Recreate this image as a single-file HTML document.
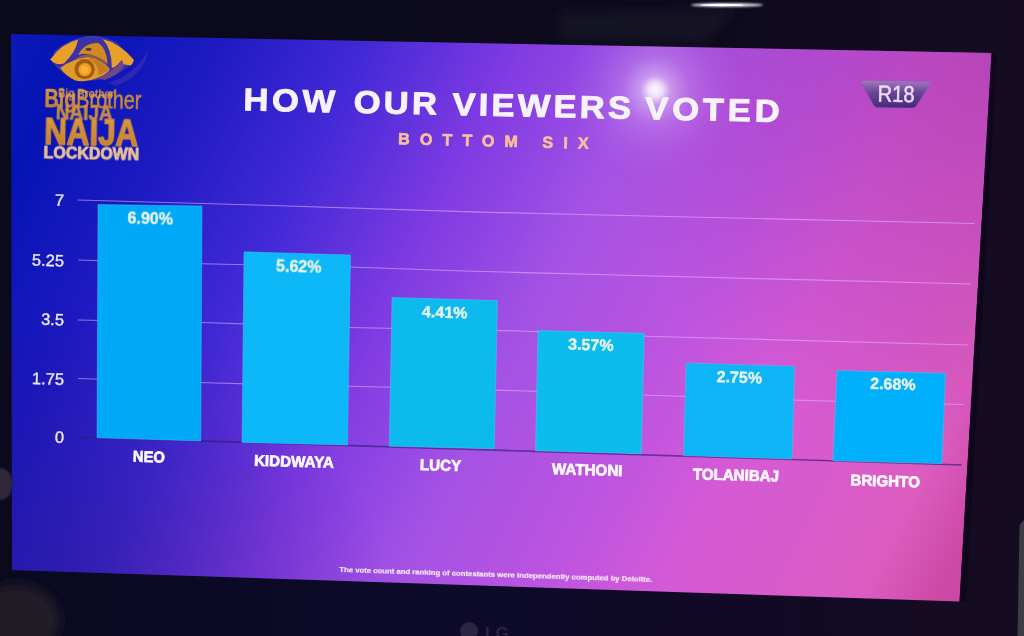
<!DOCTYPE html>
<html><head><meta charset="utf-8"><title>How our viewers voted</title>
<style>
html,body{margin:0;padding:0;background:#0d0a1f;}
body{width:1024px;height:636px;overflow:hidden;}
svg{display:block;}
text{font-family:"Liberation Sans",sans-serif;}
</style></head><body>
<svg width="1024" height="636" viewBox="0 0 1024 636">
<defs>
<linearGradient id="bg" gradientUnits="userSpaceOnUse" x1="0" y1="0" x2="1039.6" y2="519.8">

<stop offset="0.0308" stop-color="#0a18b8"/>
<stop offset="0.0769" stop-color="#0614b4"/>
<stop offset="0.1823" stop-color="#1d1ac2"/>
<stop offset="0.2977" stop-color="#4229d6"/>
<stop offset="0.4131" stop-color="#7e3ae2"/>
<stop offset="0.5285" stop-color="#a452e4"/>
<stop offset="0.6438" stop-color="#bc54e0"/>
<stop offset="0.7385" stop-color="#d45ad6"/>
<stop offset="0.8923" stop-color="#dc5cc0"/>
<stop offset="0.9538" stop-color="#cc48a4"/>
</linearGradient>
<radialGradient id="glare" gradientUnits="userSpaceOnUse" cx="655.3" cy="90" r="88">
<stop offset="0" stop-color="#ffffff" stop-opacity="0.96"/>
<stop offset="0.08" stop-color="#ffffff" stop-opacity="0.82"/>
<stop offset="0.17" stop-color="#f4e8ff" stop-opacity="0.48"/>
<stop offset="0.4" stop-color="#e4c8ff" stop-opacity="0.22"/>
<stop offset="0.7" stop-color="#d8b0ff" stop-opacity="0.08"/>
<stop offset="1" stop-color="#d0a0ff" stop-opacity="0"/>
</radialGradient>
<radialGradient id="trdark" gradientUnits="userSpaceOnUse" cx="1000" cy="40" r="420">
<stop offset="0" stop-color="#7a1a8a" stop-opacity="0.35"/>
<stop offset="1" stop-color="#7a1a8a" stop-opacity="0"/>
</radialGradient>
<radialGradient id="bldark" gradientUnits="userSpaceOnUse" cx="60" cy="620" r="330">
<stop offset="0" stop-color="#1a0a70" stop-opacity="0.4"/>
<stop offset="1" stop-color="#1a0a70" stop-opacity="0"/>
</radialGradient>
<linearGradient id="badge" x1="0" y1="0" x2="0" y2="1">
<stop offset="0" stop-color="#a878c4"/>
<stop offset="0.45" stop-color="#6a4496"/>
<stop offset="1" stop-color="#46287c"/>
</linearGradient>
<linearGradient id="gold" x1="0" y1="0" x2="0" y2="1">
<stop offset="0" stop-color="#e0a04a"/>
<stop offset="1" stop-color="#c07a28"/>
</linearGradient>
<filter id="soft" x="-5%" y="-5%" width="110%" height="110%"><feGaussianBlur stdDeviation="0.45"/></filter>
<filter id="blur6" x="-50%" y="-50%" width="200%" height="200%"><feGaussianBlur stdDeviation="6"/></filter>
<filter id="blur2" x="-50%" y="-50%" width="200%" height="200%"><feGaussianBlur stdDeviation="1.2"/></filter>
<clipPath id="scr"><polygon points="11,34 991.5,53 959.5,601.5 12,570"/></clipPath>
</defs>
<rect width="1024" height="636" fill="#0b0a1d"/>
<!-- bezel tints -->
<linearGradient id="topbz" x1="0" y1="0" x2="1" y2="0"><stop offset="0" stop-color="#0a0a1c"/><stop offset="0.6" stop-color="#0c0a1c"/><stop offset="1" stop-color="#150c22"/></linearGradient>
<polygon points="0,0 1024,0 1024,60 0,40" fill="url(#topbz)"/>
<polygon points="992,53 1024,53 1024,636 955,636 960,601" fill="#150b22"/>
<linearGradient id="botbz" x1="0" y1="0" x2="1" y2="0"><stop offset="0" stop-color="#090920"/><stop offset="0.45" stop-color="#0d0a2a"/><stop offset="0.8" stop-color="#110a26"/><stop offset="1" stop-color="#150b22"/></linearGradient>
<polygon points="0,570 960,601.5 960,636 0,636" fill="url(#botbz)"/>
<polygon points="560,12 735,10 705,42 560,40" fill="#1e1c2c" opacity="0.55" filter="url(#blur6)"/>
<ellipse cx="727" cy="5" rx="36" ry="1.8" fill="#e8eef4" filter="url(#blur2)"/>
<ellipse cx="722" cy="5" rx="22" ry="1.2" fill="#ffffff"/>
<polygon points="1019.5,525 1024,520 1024,636 1017.5,636" fill="#3e3c44"/>
<!-- LG logo -->
<g fill="#2a2540" filter="url(#soft)">
<circle cx="469" cy="631" r="9"/>
<text x="485" y="639" font-size="17" font-weight="bold" fill="#2a2540">LG</text>
</g>
<!-- fingers -->
<ellipse cx="16" cy="620" rx="44" ry="36" fill="#211a28" filter="url(#blur6)"/>
<!-- screen -->
<polygon points="11,34 991.5,53 959.5,601.5 12,570" fill="url(#bg)"/>
<g clip-path="url(#scr)">
<rect width="1024" height="636" fill="url(#trdark)"/>
<rect width="1024" height="636" fill="url(#bldark)"/>
<rect width="1024" height="636" fill="url(#glare)"/>

<g fill="none" stroke="#e8b8ff" stroke-opacity="0.55" stroke-width="1.2" filter="url(#soft)">
<polyline points="77.5,200 256,205 480,212.1 580,214.5 974.5,223.5"/>
<polyline points="78,260 202,263.75 350,267 456,270.75 636,275.5 971,284"/>
<polyline points="78,320 202,322.5 350,327.5 520,331 645,336.25 740,338.75 968,345"/>
<polyline points="78,378.5 215,383 370,386.75 518,390.75 665,395.75 815,400.75 964,404.5"/>
</g>
<polyline points="77.5,437.25 256,442.6 535,451.4 961.6,465" fill="none" stroke="#321a7a" stroke-opacity="0.65" stroke-width="1.6" filter="url(#soft)"/>
<g filter="url(#soft)">
<polygon points="98,204.5 202,206 200.75,441 97,437.75" fill="#04a9f8" stroke="#58c8f8" stroke-opacity="0.5" stroke-width="0.8"/>
<polygon points="244,251.75 350.5,255 347.5,445 242,442.5" fill="#08b8f8" stroke="#58c8f8" stroke-opacity="0.5" stroke-width="0.8"/>
<polygon points="392,297.5 497.5,300.5 494.25,448.75 389.25,446.25" fill="#0ebaee" stroke="#58c8f8" stroke-opacity="0.5" stroke-width="0.8"/>
<polygon points="538,330.5 644.25,333.25 641.25,453.75 535.5,450.75" fill="#10bcee" stroke="#58c8f8" stroke-opacity="0.5" stroke-width="0.8"/>
<polygon points="686.25,363 794.5,366.25 792,459 683.5,455.6" fill="#08b4f6" stroke="#58c8f8" stroke-opacity="0.5" stroke-width="0.8"/>
<polygon points="837,370.5 945.5,373.25 941.8,463.6 833,460.8" fill="#00b0fc" stroke="#58c8f8" stroke-opacity="0.5" stroke-width="0.8"/>
</g>
<g filter="url(#soft)">
<text x="64" y="205.91" font-size="16.5" font-weight="normal" text-anchor="end" fill="#ece8f6" transform="rotate(1.6 64 200)" stroke="#ece8f6" stroke-width="0.35">7</text>
<text x="64" y="266.41" font-size="16.5" font-weight="normal" text-anchor="end" fill="#ece8f6" transform="rotate(1.6 64 260.5)" stroke="#ece8f6" stroke-width="0.35">5.25</text>
<text x="64" y="325.41" font-size="16.5" font-weight="normal" text-anchor="end" fill="#ece8f6" transform="rotate(1.6 64 319.5)" stroke="#ece8f6" stroke-width="0.35">3.5</text>
<text x="64" y="384.91" font-size="16.5" font-weight="normal" text-anchor="end" fill="#ece8f6" transform="rotate(1.6 64 379)" stroke="#ece8f6" stroke-width="0.35">1.75</text>
<text x="64" y="442.91" font-size="16.5" font-weight="normal" text-anchor="end" fill="#ece8f6" transform="rotate(1.6 64 437)" stroke="#ece8f6" stroke-width="0.35">0</text>
<text x="150.25" y="224.48" font-size="16" font-weight="bold" text-anchor="middle" fill="#e8f2ec" textLength="45.5" lengthAdjust="spacingAndGlyphs" transform="rotate(1.6 150.25 218.75)" stroke="#e8f2ec" stroke-width="0.4">6.90%</text>
<text x="298.75" y="272.48" font-size="16" font-weight="bold" text-anchor="middle" fill="#e8f2ec" textLength="45.5" lengthAdjust="spacingAndGlyphs" transform="rotate(1.6 298.75 266.75)" stroke="#e8f2ec" stroke-width="0.4">5.62%</text>
<text x="444.75" y="317.73" font-size="16" font-weight="bold" text-anchor="middle" fill="#e8f2ec" textLength="45.5" lengthAdjust="spacingAndGlyphs" transform="rotate(1.6 444.75 312)" stroke="#e8f2ec" stroke-width="0.4">4.41%</text>
<text x="590.9" y="350.23" font-size="16" font-weight="bold" text-anchor="middle" fill="#e8f2ec" textLength="45.5" lengthAdjust="spacingAndGlyphs" transform="rotate(1.6 590.9 344.5)" stroke="#e8f2ec" stroke-width="0.4">3.57%</text>
<text x="739.4" y="382.73" font-size="16" font-weight="bold" text-anchor="middle" fill="#e8f2ec" textLength="45.5" lengthAdjust="spacingAndGlyphs" transform="rotate(1.6 739.4 377)" stroke="#e8f2ec" stroke-width="0.4">2.75%</text>
<text x="892.9" y="389.48" font-size="16" font-weight="bold" text-anchor="middle" fill="#e8f2ec" textLength="45.5" lengthAdjust="spacingAndGlyphs" transform="rotate(1.6 892.9 383.75)" stroke="#e8f2ec" stroke-width="0.4">2.68%</text>
<text x="149" y="462.05" font-size="15.5" font-weight="bold" text-anchor="middle" fill="#fbf8fd" textLength="32" lengthAdjust="spacingAndGlyphs" transform="rotate(1.6 149 456.5)" stroke="#fbf8fd" stroke-width="0.7">NEO</text>
<text x="293.9" y="466.80" font-size="15.5" font-weight="bold" text-anchor="middle" fill="#fbf8fd" textLength="79.75" lengthAdjust="spacingAndGlyphs" transform="rotate(1.6 293.9 461.25)" stroke="#fbf8fd" stroke-width="0.7">KIDDWAYA</text>
<text x="440.6" y="470.55" font-size="15.5" font-weight="bold" text-anchor="middle" fill="#fbf8fd" textLength="41.25" lengthAdjust="spacingAndGlyphs" transform="rotate(1.6 440.6 465)" stroke="#fbf8fd" stroke-width="0.7">LUCY</text>
<text x="587.25" y="475.05" font-size="15.5" font-weight="bold" text-anchor="middle" fill="#fbf8fd" textLength="70.5" lengthAdjust="spacingAndGlyphs" transform="rotate(1.6 587.25 469.5)" stroke="#fbf8fd" stroke-width="0.7">WATHONI</text>
<text x="736" y="480.35" font-size="15.5" font-weight="bold" text-anchor="middle" fill="#fbf8fd" textLength="86.1" lengthAdjust="spacingAndGlyphs" transform="rotate(1.6 736 474.8)" stroke="#fbf8fd" stroke-width="0.7">TOLANIBAJ</text>
<text x="885.2" y="486.25" font-size="15.5" font-weight="bold" text-anchor="middle" fill="#fbf8fd" textLength="69.6" lengthAdjust="spacingAndGlyphs" transform="rotate(1.6 885.2 480.7)" stroke="#fbf8fd" stroke-width="0.7">BRIGHTO</text>
<text x="0" y="0" font-size="31.5" font-weight="bold" fill="#f6f2fa" stroke="#f6f2fa" stroke-width="0.9" stroke-linejoin="round" textLength="83.5" lengthAdjust="spacing" transform="translate(243.2 110.37) rotate(1.24) scale(1.1 1)">HOW</text>
<text x="0" y="0" font-size="31.5" font-weight="bold" fill="#f6f2fa" stroke="#f6f2fa" stroke-width="0.9" stroke-linejoin="round" textLength="75.8" lengthAdjust="spacing" transform="translate(353.4 112.75) rotate(1.24) scale(1.1 1)">OUR</text>
<text x="0" y="0" font-size="31.5" font-weight="bold" fill="#f6f2fa" stroke="#f6f2fa" stroke-width="0.9" stroke-linejoin="round" textLength="162.5" lengthAdjust="spacing" transform="translate(452.2 114.88) rotate(1.24) scale(1.1 1)">VIEWERS</text>
<text x="0" y="0" font-size="31.5" font-weight="bold" fill="#f6f2fa" stroke="#f6f2fa" stroke-width="0.9" stroke-linejoin="round" textLength="122.3" lengthAdjust="spacing" transform="translate(645 119.05) rotate(1.24) scale(1.1 1)">VOTED</text>
<text x="398" y="144.3" font-size="16.2" font-weight="bold" fill="#f8c09c" stroke="#f8c09c" stroke-width="0.6" textLength="190.5" lengthAdjust="spacing" transform="rotate(1.36 398 144.3)">BOTTOM SIX</text>
<text x="339.3" y="571.6" font-size="7.4" font-weight="bold" fill="#f4ecf8" stroke="#f4ecf8" stroke-width="0.2" textLength="313" lengthAdjust="spacingAndGlyphs" transform="rotate(1.83 339.3 571.6)">The vote count and ranking of contestants were independently computed by Deloitte.</text>
</g>
<g filter="url(#soft)">
<path d="M866,80.3 L927.5,81.5 Q932,81.8 929.6,85 L916.5,105.8 Q915,108.2 912,108.1 L878,107.6 Q875,107.5 873.5,105 L861.5,83.5 Q860,80.2 866,80.3 Z" fill="url(#badge)" stroke="#8a5aa8" stroke-opacity="0.6" stroke-width="0.8"/>
<text x="877.5" y="101.6" font-size="23" fill="#ecdcf6" stroke="#ecdcf6" stroke-width="0.5" textLength="37" lengthAdjust="spacingAndGlyphs" transform="rotate(1 877.5 101.6)">R18</text>
</g>
<g filter="url(#soft)"><g>
<path d="M 52.9,53.5 Q 64.7,39.5 90.5,35.8 Q 108.8,36.3 121.6,46.0 Q 106.6,39.5 90.5,39.5 Q 67.9,42.7 58.3,57.8 Z" fill="#8a60b0" opacity="0.45"/>
<path d="M 108.8,82.5 Q 134.5,75.0 148.5,50.3 Q 143.1,77.1 115.2,85.7 Z" fill="#4a38b0" opacity="0.5"/>
<path d="M 50.2,59.4 Q 66.9,39.5 91.6,37.6 Q 117.3,38.4 134.0,60.1 Q 130.2,67.4 115.2,75.0 Q 95.9,82.5 76.5,80.9 Q 61.5,75.0 50.2,59.4 Z" fill="#3a30a8"/>
<path d="M 50.2,59.4 Q 61.5,43.8 78.1,39.5 Q 76.0,51.9 64.2,63.2 Q 56.1,66.2 50.2,59.4 Z" fill="#e8a02c"/>
<path d="M 102.8,39.3 Q 119.5,42.7 134.0,60.1 Q 132.9,64.2 130.8,65.5 L 123.3,64.2 L 121.9,60.1 L 117.6,64.4 Q 115.2,67.4 111.8,68.0 Q 112.0,49.2 102.8,39.3 Z" fill="#e8a02c"/>
<path d="M 75.4,58.9 Q 90.5,53.5 108.8,68.5 Q 104.5,58.9 95.9,55.1 Q 85.1,52.4 75.4,58.9 Z" fill="#8a5a50"/>
<path d="M 78.1,55.1 Q 84.0,42.7 98.5,43.0 Q 107.1,49.2 107.5,64.2 Q 101.2,56.9 90.5,54.6 Q 84.0,52.9 78.1,55.1 Z" fill="#d08a24"/>
<path d="M 60.2,68.0 Q 72.2,58.3 88.3,56.9 Q 100.2,58.9 109.8,69.1 Q 108.8,73.4 98.0,77.7 Q 85.1,82.5 75.4,80.6 Q 65.8,76.0 60.2,68.0 Z" fill="#e09a26"/>
<path d="M 86.2,56.9 Q 100.2,58.9 108.8,69.6 Q 104.5,73.9 98.0,75.0 Q 100.2,64.2 86.2,56.9 Z" fill="#b87420" opacity="0.8"/>
<path d="M 98.0,78.0 Q 113.0,71.7 121.9,60.8 L 124.0,65.5 Q 118.4,76.0 104.5,79.9 Z" fill="#7a4a80" opacity="0.9"/>
<ellipse cx="88.6" cy="49.2" rx="3" ry="1.5" fill="#5a3448"/>
<circle cx="84.6" cy="69.1" r="10.2" fill="#a05c18"/>
<circle cx="84.9" cy="69.6" r="6.6" fill="#ee9e20"/>
<circle cx="84.5" cy="69.8" r="4" fill="#f6b030"/>
</g></g>
<g filter="url(#soft)" transform="rotate(1.2 92 100)">
<text x="44.4" y="107.6" font-size="25" fill="url(#gold)" stroke="#cc8c3a" stroke-width="0.5" textLength="97" lengthAdjust="spacingAndGlyphs"><tspan font-weight="bold">Big</tspan>Brother</text>
<text x="58" y="97.6" font-size="12" font-weight="bold" fill="#e0a04c" opacity="0.9" textLength="56" lengthAdjust="spacingAndGlyphs">Big Brother</text>
<text x="56" y="120.2" font-size="21.5" font-weight="bold" fill="#d89838" stroke="#d89838" stroke-width="0.6" opacity="0.9" textLength="57" lengthAdjust="spacingAndGlyphs">NAIJA</text>
<text x="45" y="144.6" font-size="37" font-weight="bold" fill="url(#gold)" stroke="#d08c34" stroke-width="1.5" stroke-linejoin="round" textLength="94" lengthAdjust="spacingAndGlyphs">NAIJA</text>
<text x="44.8" y="159" font-size="17" font-weight="bold" fill="#e8c096" stroke="#e8c096" stroke-width="0.9" stroke-linejoin="round" textLength="95.5" lengthAdjust="spacingAndGlyphs">LOCKDOWN</text>
</g>
</g>
<polygon points="991.5,53 997,53 966,602 959.5,601.5" fill="#0c0618" opacity="0.7"/>
<ellipse cx="1" cy="484" rx="11.5" ry="16" fill="#30263a" filter="url(#blur2)"/>
</svg></body></html>
